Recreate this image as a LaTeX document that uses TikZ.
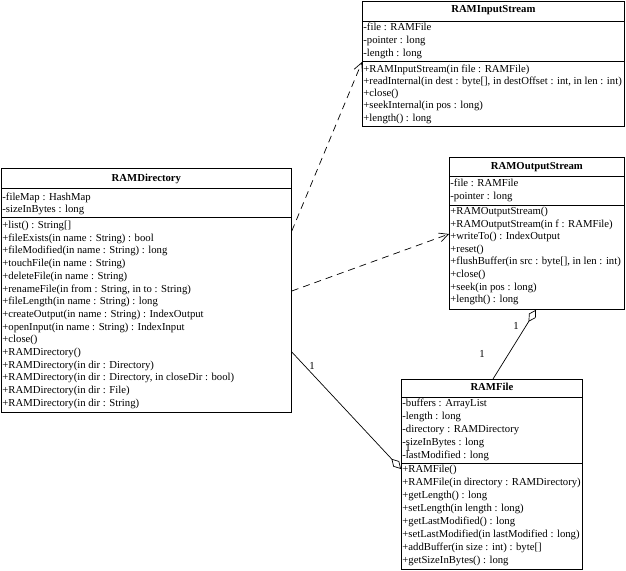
\documentclass[tikz,border=0pt]{standalone}
\usepackage{fontspec}
\setmainfont{Liberation Serif}
\usetikzlibrary{arrows.meta,calc}
\begin{document}
\begin{tikzpicture}[x=1pt,y=-1pt,
  classbox/.style={draw,line width=0.8pt,rectangle,anchor=north west,inner sep=0pt},
  txt/.style={anchor=west,inner xsep=1.2pt,inner ysep=0pt,text height=7.5pt,text depth=2.5pt,font=\fontsize{10.7}{12.7}\selectfont},
  ttl/.style={anchor=center,inner sep=0pt,text height=7.5pt,text depth=2.5pt,font=\fontsize{10.7}{12.7}\selectfont\bfseries},
  sepline/.style={line width=0.8pt},
  dep/.style={line width=0.7pt,dash pattern=on 7pt off 5pt,-{Straight Barb[length=9pt,width=9pt]}},
  assoc/.style={line width=0.7pt},
  mult/.style={inner sep=0pt,font=\fontsize{10.7}{12.7}\selectfont}
]
\useasboundingbox (0,0) rectangle (626,570);

% ---------- RAMInputStream ----------
\node[classbox,minimum width=262pt,minimum height=125pt] (ris) at (362,1) {};
\node[ttl] (ris-t) at ($(ris.north)+(0,9)$) {RAMInputStream};
\draw[sepline] ($(ris.north west)+(0,20)$) -- ($(ris.north east)+(0,20)$);
\draw[sepline] ($(ris.north west)+(0,60)$) -- ($(ris.north east)+(0,60)$);
\foreach \t [count=\i from 0] in {{-file : RAMFile},{-pointer : long},{-length : long}}
  \node[txt] (ris-a\i) at ($(ris.north west)+(0,26.5+13*\i)$) {\t};
\foreach \t [count=\i from 0] in {{+RAMInputStream(in file : RAMFile)},{+readInternal(in dest : byte[], in destOffset : int, in len : int)},{+close()},{+seekInternal(in pos : long)},{+length() : long}}
  \node[txt] (ris-m\i) at ($(ris.north west)+(0,68.5+12.3*\i)$) {\t};

% ---------- RAMOutputStream ----------
\node[classbox,minimum width=175pt,minimum height=152pt] (ros) at (449,157) {};
\node[ttl] (ros-t) at ($(ros.north)+(0,10)$) {RAMOutputStream};
\draw[sepline] ($(ros.north west)+(0,19)$) -- ($(ros.north east)+(0,19)$);
\draw[sepline] ($(ros.north west)+(0,48)$) -- ($(ros.north east)+(0,48)$);
\foreach \t [count=\i from 0] in {{-file : RAMFile},{-pointer : long}}
  \node[txt] (ros-a\i) at ($(ros.north west)+(0,27+13*\i)$) {\t};
\foreach \t [count=\i from 0] in {{+RAMOutputStream()},{+RAMOutputStream(in f : RAMFile)},{+writeTo() : IndexOutput},{+reset()},{+flushBuffer(in src : byte[], in len : int)},{+close()},{+seek(in pos : long)},{+length() : long}}
  \node[txt] (ros-m\i) at ($(ros.north west)+(0,55+12.6*\i)$) {\t};

% ---------- RAMDirectory ----------
\node[classbox,minimum width=290pt,minimum height=244pt] (dir) at (1,168) {};
\node[ttl] (dir-t) at ($(dir.north)+(0,11)$) {RAMDirectory};
\draw[sepline] ($(dir.north west)+(0,20)$) -- ($(dir.north east)+(0,20)$);
\draw[sepline] ($(dir.north west)+(0,49)$) -- ($(dir.north east)+(0,49)$);
\foreach \t [count=\i from 0] in {{-fileMap : HashMap},{-sizeInBytes : long}}
  \node[txt] (dir-a\i) at ($(dir.north west)+(0,30+12*\i)$) {\t};
\foreach \t [count=\i from 0] in {{+list() : String[]},{+fileExists(in name : String) : bool},{+fileModified(in name : String) : long},{+touchFile(in name : String)},{+deleteFile(in name : String)},{+renameFile(in from : String, in to : String)},{+fileLength(in name : String) : long},{+createOutput(in name : String) : IndexOutput},{+openInput(in name : String) : IndexInput},{+close()},{+RAMDirectory()},{+RAMDirectory(in dir : Directory)},{+RAMDirectory(in dir : Directory, in closeDir : bool)},{+RAMDirectory(in dir : File)},{+RAMDirectory(in dir : String)}}
  \node[txt] (dir-m\i) at ($(dir.north west)+(0,58+12.7*\i)$) {\t};

% ---------- RAMFile ----------
\node[classbox,minimum width=181pt,minimum height=190pt] (rf) at (401,379) {};
\node[ttl] (rf-t) at ($(rf.north)+(0,9)$) {RAMFile};
\draw[sepline] ($(rf.north west)+(0,18)$) -- ($(rf.north east)+(0,18)$);
\draw[sepline] ($(rf.north west)+(0,84)$) -- ($(rf.north east)+(0,84)$);
\foreach \t [count=\i from 0] in {{-buffers : ArrayList},{-length : long},{-directory : RAMDirectory},{-sizeInBytes : long},{-lastModified : long}}
  \node[txt] (rf-a\i) at ($(rf.north west)+(0,25+13*\i)$) {\t};
\foreach \t [count=\i from 0] in {{+RAMFile()},{+RAMFile(in directory : RAMDirectory)},{+getLength() : long},{+setLength(in length : long)},{+getLastModified() : long},{+setLastModified(in lastModified : long)},{+addBuffer(in size : int) : byte[]},{+getSizeInBytes() : long}}
  \node[txt] (rf-m\i) at ($(rf.north west)+(0,91+13*\i)$) {\t};

% ---------- connectors ----------
\draw[dep] ($(dir.north east)+(0,63)$) -- ($(ris.north west)+(0,61)$);
\draw[dep] ($(dir.north east)+(0,123)$) -- ($(ros.north west)+(0,77)$);
\draw[assoc,{Diamond[open,length=14pt,width=8pt]}-] ($(ros.south west)+(87,0)$) -- ($(rf.north west)+(92,0)$);
\draw[assoc,-{Diamond[open,length=14pt,width=8pt]}] ($(dir.north east)+(0,184)$) -- ($(rf.north west)+(0,90)$);

% ---------- multiplicities ----------
\node[mult] (m1) at (312,366) {1};
\node[mult] (m2) at (408,448) {1};
\node[mult] (m3) at (516,326) {1};
\node[mult] (m4) at (482,354) {1};
\end{tikzpicture}
\end{document}
